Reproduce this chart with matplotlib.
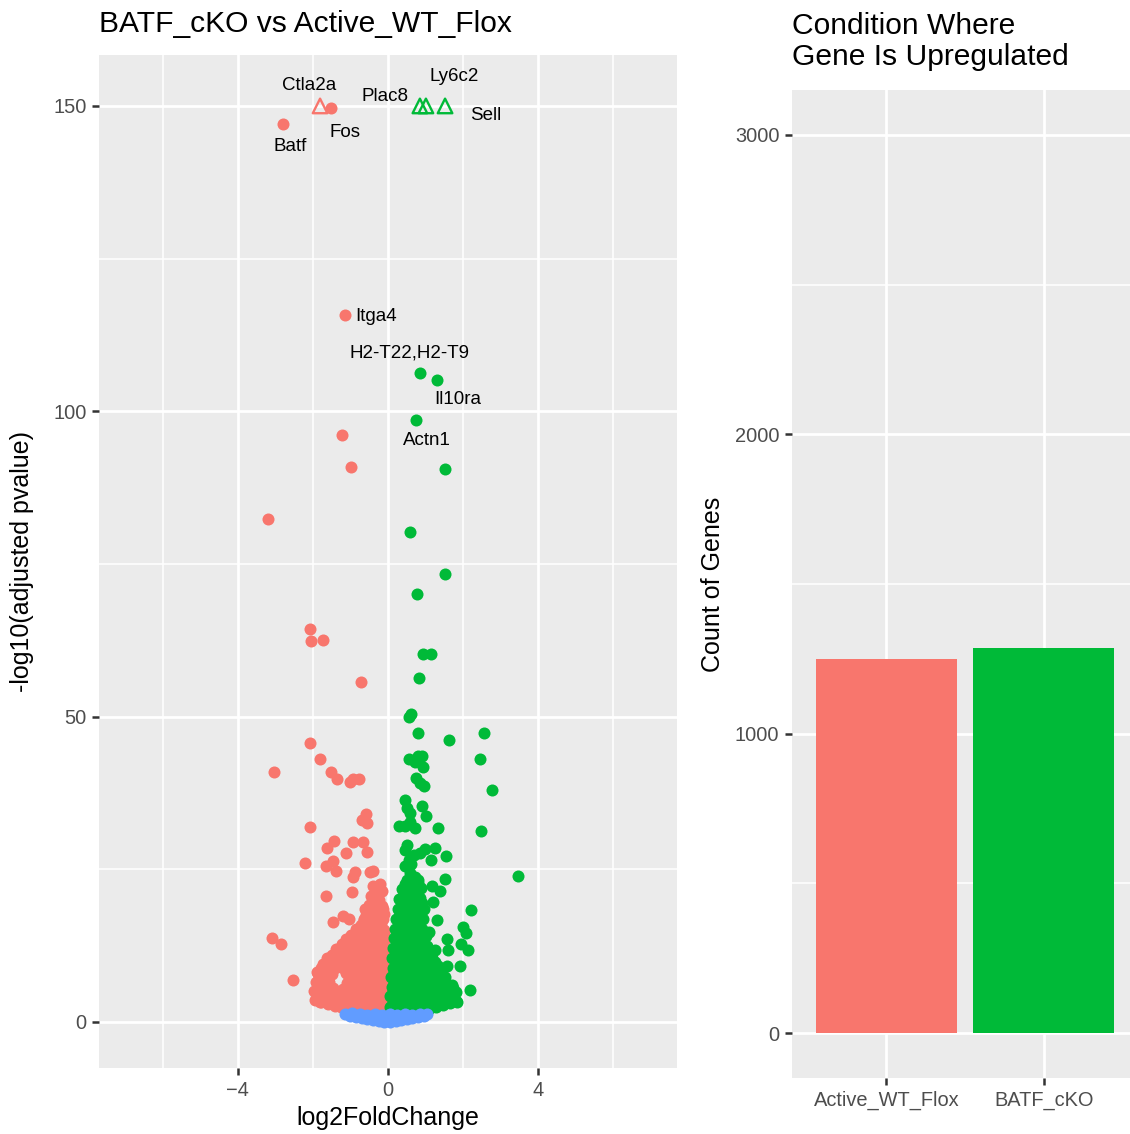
import matplotlib
matplotlib.use("Agg")
import matplotlib.pyplot as plt
from matplotlib.ticker import MultipleLocator, FixedLocator

plt.rcParams['font.family'] = ['Liberation Sans', 'DejaVu Sans']

RED = '#F8766D'
GREEN = '#00BA38'
BLUE = '#619CFF'

# genes up in Active_WT_Flox (negative log2FC), -log10(padj)
down_lfc = [-1.23, -0.99, -3.20, -2.08, -2.05, -1.73, -0.72, -2.08, -1.80, -3.04,
            -1.52, -1.37, -1.01, -0.93, -0.77, -0.59, -0.70, -0.55, -2.08, -1.44,
            -1.63, -0.93, -0.67, -0.55, -1.12, -2.21, -1.46, -1.64, -1.39, -0.88,
            -0.94, -0.48, -0.39, -1.64, -0.95, -1.47, -1.19, -1.03, -3.10, -2.86,
            -2.54, -0.61, -0.35, -0.64, -0.44, -0.75, -0.83, -0.31, -1.90, -1.37,
            -1.81,
            -1.95, -1.78, -1.60, -1.42, -1.25, -1.08, -0.90, -0.72, -0.55, -0.38, -0.20, -0.06,
            -1.87, -1.69, -1.51, -1.33, -1.17, -0.99, -0.81, -0.63, -0.46, -0.29, -0.12,
            -1.98, -1.80, -1.62, -1.44, -1.26, -1.08, -0.90, -0.72, -0.54, -0.36, -0.18, -0.05,
            -1.83, -1.65, -1.47, -1.19, -1.01, -0.83, -0.65, -0.47, -0.29, -0.12,
            -1.92, -1.74, -1.56, -1.10, -0.92, -0.74, -0.56, -0.38, -0.20, -0.06,
            -1.80, -1.62, -1.03, -0.85, -0.67, -0.49, -0.31, -0.14,
            -1.86, -1.68, -1.50, -1.12, -0.94, -0.76, -0.58, -0.40, -0.22, -0.07,
            -1.78, -1.60, -1.42, -1.20, -1.03, -0.85, -0.67, -0.49, -0.31, -0.14,
            -1.72, -1.55, -1.38, -1.20, -1.02, -0.84, -0.66, -0.48, -0.30, -0.12,
            -1.62, -1.45, -1.28, -1.10, -0.93, -0.75, -0.57, -0.39, -0.21, -0.08,
            -1.50, -1.30, -1.12, -0.94, -0.76, -0.58, -0.40, -0.22, -0.08,
            -1.38, -1.20, -1.03, -0.85, -0.67, -0.49, -0.31, -0.14,
            -1.22, -1.04, -0.86, -0.68, -0.50, -0.32, -0.14,
            -1.12, -0.95, -0.77, -0.59, -0.41, -0.23, -0.08,
            -0.98, -0.80, -0.62, -0.44, -0.26, -0.10,
            -0.85, -0.63, -0.45, -0.27, -0.10,
            -0.72, -0.54, -0.36, -0.18,
            -0.63, -0.45, -0.27, -0.12,
            -0.58, -0.40, -0.22, -0.10,
            -0.49, -0.31, -0.14,
            -0.50, -0.32, -0.15,
            -0.41, -0.23,
            -0.44, -0.26,
            -0.33, -0.15,
            -0.40, -0.22]
down_padj = [96.1, 90.8, 82.3, 64.3, 62.3, 62.5, 55.6, 45.7, 43.1, 41.0,
             40.9, 39.8, 39.3, 39.8, 39.8, 34.1, 33.0, 32.6, 31.9, 29.7,
             28.5, 29.4, 29.4, 27.9, 27.7, 26.1, 26.4, 25.5, 24.8, 24.5,
             23.8, 24.5, 24.8, 20.7, 21.2, 16.3, 17.3, 16.9, 13.7, 12.7,
             6.9, 18.5, 18.1, 16.7, 16.7, 15.1, 13.7, 14.0, 8.2, 11.5,
             3.3,
             3.6, 3.2, 2.9, 2.6, 2.4, 2.3, 2.4, 2.3, 2.2, 2.4, 2.3, 2.5,
             4.0, 3.8, 3.6, 3.5, 3.7, 3.5, 3.8, 3.6, 3.8, 3.5, 3.7,
             5.0, 4.7, 4.9, 4.5, 4.8, 4.6, 4.9, 4.6, 4.8, 4.5, 4.9, 4.4,
             5.7, 5.5, 5.6, 5.4, 5.7, 5.5, 5.7, 5.4, 5.6, 5.5,
             6.5, 6.2, 6.6, 6.3, 6.6, 6.2, 6.5, 6.3, 6.6, 6.2,
             7.2, 7.1, 7.3, 7.1, 7.2, 7.3, 7.1, 7.2,
             7.8, 8.1, 7.9, 8.0, 7.8, 8.2, 7.9, 8.1, 7.8, 8.0,
             8.8, 8.7, 8.9, 8.8, 8.7, 8.9, 8.8, 8.7, 8.9, 8.8,
             9.5, 9.8, 9.6, 9.9, 9.5, 9.7, 9.4, 9.8, 9.5, 9.7,
             10.4, 10.3, 10.5, 10.4, 10.3, 10.5, 10.4, 10.3, 10.5, 10.4,
             11.0, 11.3, 11.1, 11.4, 11.0, 11.3, 11.1, 11.4, 11.0,
             12.0, 11.9, 12.1, 12.0, 11.9, 12.1, 12.0, 11.9,
             12.7, 13.0, 12.6, 12.9, 12.7, 13.0, 12.6,
             13.6, 13.5, 13.7, 13.6, 13.5, 13.7, 13.6,
             14.3, 14.6, 14.2, 14.5, 14.3, 14.6,
             15.2, 15.1, 15.3, 15.2, 15.1,
             15.9, 16.2, 15.8, 16.1,
             16.8, 16.7, 16.9, 16.8,
             17.5, 17.8, 17.4, 17.7,
             18.4, 18.3, 18.5,
             19.1, 19.4, 19.0,
             20.0, 19.9,
             20.7, 21.0,
             21.6, 21.5,
             22.3, 22.6]

# genes up in BATF_cKO (positive log2FC)
up_lfc = [1.52, 0.59, 1.52, 0.77, 0.93, 1.15, 0.83, 0.57, 0.62, 0.81,
          1.63, 2.56, 0.56, 0.81, 0.90, 0.72, 0.92, 2.45, 0.75, 0.85,
          0.97, 2.76, 0.44, 0.50, 0.59, 0.90, 1.01, 0.29, 0.45, 0.59,
          0.72, 1.34, 2.47, 0.50, 0.45, 0.68, 0.85, 0.99, 1.25, 1.15,
          1.54, 0.59, 0.72, 1.52, 3.47, 1.16, 1.39, 1.21, 2.21, 2.01,
          2.07, 1.56, 1.95, 2.12, 1.92, 2.19, 1.56, 1.52, 1.70, 1.83,
          1.30, 1.08, 1.25, 1.61, 0.45, 0.55, 0.62,
          0.06, 0.22, 0.40, 0.58, 0.76, 0.94, 1.10, 1.28, 1.46, 1.64, 1.80,
          0.14, 0.31, 0.49, 0.67, 0.85, 1.03, 1.20, 1.38, 1.56, 1.72,
          0.06, 0.22, 0.40, 0.58, 0.76, 0.94, 1.12, 1.30, 1.48, 1.66, 1.82,
          0.14, 0.31, 0.49, 0.67, 0.85, 1.03, 1.21, 1.39, 1.57, 1.74,
          0.10, 0.28, 0.46, 0.64, 0.82, 1.00, 1.18, 1.36, 1.52,
          0.17, 0.35, 0.53, 0.71, 0.89, 1.07, 1.25, 1.42,
          0.08, 0.26, 0.44, 0.62, 0.80, 0.98, 1.16, 1.34, 1.46,
          0.17, 0.35, 0.53, 0.71, 0.89, 1.07, 1.25, 1.40,
          0.12, 0.30, 0.48, 0.66, 0.84, 1.02, 1.20, 1.34,
          0.19, 0.37, 0.55, 0.73, 0.91, 1.09, 1.26,
          0.10, 0.28, 0.46, 0.64, 0.82, 1.00, 1.18,
          0.20, 0.38, 0.56, 0.74, 0.92, 1.10,
          0.14, 0.32, 0.50, 0.68, 0.86, 1.04,
          0.23, 0.41, 0.59, 0.77, 0.95,
          0.16, 0.34, 0.52, 0.70, 0.88, 1.00,
          0.25, 0.43, 0.61, 0.79, 0.95,
          0.18, 0.36, 0.54, 0.72, 0.90,
          0.28, 0.46, 0.64, 0.82,
          0.22, 0.40, 0.58, 0.76, 0.92,
          0.33, 0.51, 0.69, 0.87,
          0.26, 0.44, 0.62, 0.80, 0.95,
          0.38, 0.56, 0.74, 0.90,
          0.30, 0.48, 0.66, 0.84,
          0.42, 0.60, 0.78,
          0.36, 0.54, 0.72, 0.88,
          0.46, 0.63, 0.80,
          0.50, 0.66, 0.80]
up_padj = [90.5, 80.2, 73.3, 70.0, 60.2, 60.3, 56.4, 49.9, 50.4, 47.3,
           46.1, 47.3, 43.1, 43.6, 43.6, 42.5, 41.7, 43.1, 40.0, 39.2,
           38.7, 38.0, 36.4, 35.0, 34.2, 35.4, 33.8, 32.1, 32.1, 32.8,
           31.7, 31.8, 31.2, 29.0, 28.2, 27.4, 27.7, 28.3, 28.5, 26.6,
           27.1, 24.4, 23.8, 23.4, 23.9, 22.2, 21.5, 19.7, 18.4, 15.5,
           14.5, 13.6, 12.8, 11.8, 9.1, 5.3, 9.1, 7.4, 6.1, 3.3,
           16.7, 14.8, 11.8, 11.8, 25.5, 26.5, 25.8,
           2.5, 2.3, 2.4, 2.2, 2.4, 2.3, 2.2, 2.5, 2.8, 3.1, 3.5,
           3.3, 3.2, 3.4, 3.3, 3.2, 3.4, 3.3, 3.5, 3.8, 4.1,
           4.3, 4.0, 4.4, 4.1, 4.3, 4.0, 4.4, 4.1, 4.3, 4.6, 4.9,
           5.0, 4.9, 5.1, 5.0, 4.9, 5.1, 5.0, 5.1, 5.2, 5.5,
           5.7, 6.0, 5.6, 5.9, 5.7, 6.0, 5.6, 5.9, 5.7,
           6.6, 6.5, 6.7, 6.6, 6.5, 6.7, 6.6, 6.5,
           7.3, 7.6, 7.2, 7.5, 7.3, 7.6, 7.2, 7.5, 7.2,
           8.2, 8.1, 8.3, 8.2, 8.1, 8.3, 8.2, 8.1,
           8.9, 9.2, 8.8, 9.1, 8.9, 9.2, 8.8, 9.1,
           9.8, 9.7, 9.9, 9.8, 9.7, 9.9, 9.8,
           10.5, 10.8, 10.4, 10.7, 10.5, 10.8, 10.4,
           11.4, 11.3, 11.5, 11.4, 11.3, 11.5,
           12.1, 12.4, 12.0, 12.3, 12.1, 12.4,
           13.0, 12.9, 13.1, 13.0, 12.9,
           13.7, 14.0, 13.6, 13.9, 13.7, 14.1,
           14.6, 14.5, 14.7, 14.6, 14.5,
           15.3, 15.6, 15.2, 15.5, 15.3,
           16.2, 16.1, 16.3, 16.2,
           16.9, 17.2, 16.8, 17.1, 16.9,
           17.8, 17.7, 17.9, 17.8,
           18.5, 18.8, 18.4, 18.7, 18.5,
           19.4, 19.3, 19.5, 19.4,
           20.1, 20.4, 20.0, 20.3,
           21.0, 20.9, 21.1,
           21.7, 22.0, 21.6, 21.9,
           22.6, 22.5, 22.7,
           23.3, 23.6, 23.2]

# not significant
ns_lfc = [-1.15, -1.00, -0.85, -0.70, -0.55, -0.40, -0.25, -0.10, 0.05, 0.20,
          0.35, 0.50, 0.65, 0.80, 0.95, 1.05,
          -0.95, -0.75, -0.55, -0.35, -0.15, 0.05, 0.25, 0.45, 0.65, 0.85,
          -0.50, -0.25, 0.00, 0.25, 0.50]
ns_padj = [1.3, 1.0, 0.8, 0.6, 0.45, 0.3, 0.15, 0.05, 0.05, 0.15,
           0.3, 0.45, 0.6, 0.8, 1.0, 1.3,
           1.4, 1.3, 1.2, 1.3, 1.2, 1.3, 1.2, 1.3, 1.2, 1.3,
           0.8, 0.6, 0.5, 0.6, 0.8]

# labelled genes; padj above 150 is capped and drawn as a triangle
gene_names = ['Batf', 'Fos', 'Ctla2a', 'Itga4', 'H2-T22,H2-T9', 'Il10ra',
              'Actn1', 'Plac8', 'Ly6c2', 'Sell']
gene_lfc = [-2.80, -1.52, -1.81, -1.15, 0.85, 1.31, 0.75, 0.85, 1.01, 1.52]
gene_padj = [147.0, 149.7, 150.0, 115.7, 106.2, 105.1, 98.5, 150.0, 150.0, 150.0]
gene_capped = [False, False, True, False, False, False, False, True, True, True]

# repelled label positions
label_pos = {'Batf': (-2.61, 143.4), 'Fos': (-1.15, 145.6), 'Ctla2a': (-2.11, 153.3),
             'Itga4': (-0.32, 115.6), 'H2-T22,H2-T9': (0.56, 109.5),
             'Il10ra': (1.87, 102.0), 'Actn1': (1.04, 95.2), 'Plac8': (-0.08, 151.6),
             'Ly6c2': (1.76, 154.9), 'Sell': (2.61, 148.4)}

conditions = ['Active_WT_Flox', 'BATF_cKO']
gene_counts = [1250, 1286]

PT = 75  # marker area for points


def gg_style(ax):
    ax.set_facecolor('#EBEBEB')
    for s in ax.spines.values():
        s.set_visible(False)
    ax.grid(which='major', color='white', linewidth=2.0)
    ax.grid(which='minor', color='white', linewidth=1.1)
    ax.set_axisbelow(True)
    ax.tick_params(which='major', length=5, width=1.8, color='#333333',
                   labelsize=14.4, labelcolor='#4D4D4D', pad=4)
    ax.tick_params(which='minor', length=0)


fig = plt.figure(figsize=(11.3, 11.34), dpi=100)
W, H = 1130, 1134

# volcano plot
ax1 = fig.add_axes([99 / W, 1 - 1068 / H, (677 - 99) / W, (1068 - 55) / H])
gg_style(ax1)
ax1.scatter(down_lfc, down_padj, s=PT, color=RED, linewidths=0, zorder=3)
ax1.scatter(up_lfc, up_padj, s=PT, color=GREEN, linewidths=0, zorder=3)
ax1.scatter(ns_lfc, ns_padj, s=PT, color=BLUE, linewidths=0, zorder=4)

for name, x, y, cap in zip(gene_names, gene_lfc, gene_padj, gene_capped):
    col = RED if x < 0 else GREEN
    if cap:
        ax1.scatter([x], [y], s=110, marker='^', facecolors='none',
                    edgecolors=col, linewidths=1.7, zorder=5)
    else:
        ax1.scatter([x], [y], s=PT, color=col, linewidths=0, zorder=5)
    tx, ty = label_pos[name]
    ax1.text(tx, ty, name, fontsize=13.5, ha='center', va='center', color='black', zorder=6)

ax1.set_xlim(-7.7, 7.7)
ax1.set_ylim(-7.54, 158.34)
ax1.xaxis.set_major_locator(FixedLocator([-4, 0, 4]))
ax1.xaxis.set_minor_locator(FixedLocator([-6, -2, 2, 6]))
ax1.yaxis.set_major_locator(MultipleLocator(50))
ax1.yaxis.set_minor_locator(MultipleLocator(25))
ax1.set_xlabel('log2FoldChange', fontsize=18, va='center')
ax1.xaxis.set_label_coords(0.5, (1068 - 1118) / (1068 - 55))
ax1.set_ylabel('-log10(adjusted pvalue)', fontsize=18, va='center')
ax1.yaxis.set_label_coords((22 - 99) / (677 - 99), 0.5)
fig.text(99 / W, 1 - 32 / H, 'BATF_cKO vs Active_WT_Flox', fontsize=21.6,
         ha='left', va='baseline')

# bar chart of upregulated gene counts
ax2 = fig.add_axes([792 / W, 1 - 1078 / H, (1138 - 792) / W, (1078 - 90) / H])
gg_style(ax2)
ax2.bar([1, 2], gene_counts, width=0.9, color=[RED, GREEN], zorder=3)
ax2.set_xlim(0.4, 2.6)
ax2.set_ylim(-150, 3150)
ax2.set_xticks([1, 2])
ax2.set_xticklabels(conditions)
ax2.yaxis.set_major_locator(MultipleLocator(1000))
ax2.yaxis.set_minor_locator(MultipleLocator(500))
ax2.set_ylabel('Count of Genes', fontsize=18, va='center')
ax2.yaxis.set_label_coords((713 - 792) / (1138 - 792), 0.5)
fig.text(792 / W, 1 - 65 / H, 'Condition Where\nGene Is Upregulated', fontsize=21.6,
         ha='left', va='baseline', linespacing=1.15)

fig.savefig('out.png', dpi=100)
